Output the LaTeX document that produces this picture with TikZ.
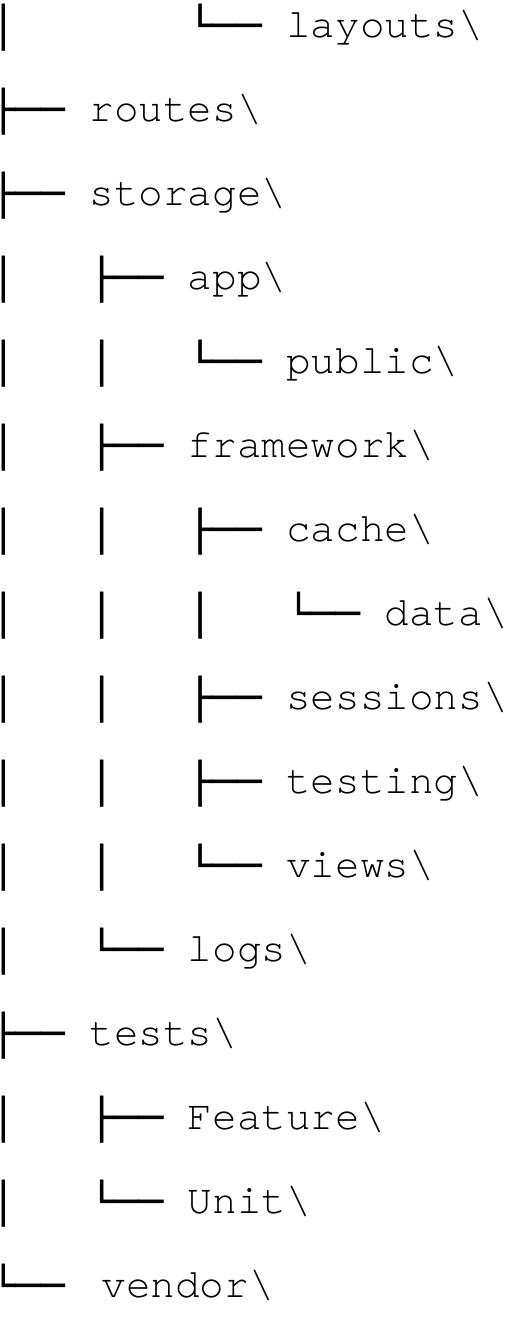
\documentclass[tikz,border=0pt]{standalone}
\usepackage{fontspec}
\newfontfamily\treefont{Liberation Mono}[FakeBold=1.2]
\newfontfamily\namefont{TeX Gyre Cursor}
\newcommand{\bl}{│\ \ \ }
\newcommand{\sk}{\ \ \ \ }
\newcommand{\nm}[1]{{\namefont #1\textbackslash}}
\begin{document}
\begin{tikzpicture}[x=1pt,y=1pt,
  ln/.style={anchor=base west,inner sep=0pt,outer sep=0pt,font=\treefont\fontsize{41}{41}\selectfont,text=black}]
\useasboundingbox (0,0) rectangle (509,1329);
\def\xo{-9}
\node[ln] (l1)  at (\xo,{1329-38-0*84})  {\bl\sk└──\ \nm{layouts}};
\node[ln] (l2)  at (\xo,{1329-38-1*84})  {├──\ \nm{routes}};
\node[ln] (l3)  at (\xo,{1329-38-2*84})  {├──\ \nm{storage}};
\node[ln] (l4)  at (\xo,{1329-38-3*84})  {\bl├──\ \nm{app}};
\node[ln] (l5)  at (\xo,{1329-38-4*84})  {\bl\bl└──\ \nm{public}};
\node[ln] (l6)  at (\xo,{1329-38-5*84})  {\bl├──\ \nm{framework}};
\node[ln] (l7)  at (\xo,{1329-38-6*84})  {\bl\bl├──\ \nm{cache}};
\node[ln] (l8)  at (\xo,{1329-38-7*84})  {\bl\bl\bl└──\ \nm{data}};
\node[ln] (l9)  at (\xo,{1329-38-8*84})  {\bl\bl├──\ \nm{sessions}};
\node[ln] (l10) at (\xo,{1329-38-9*84})  {\bl\bl├──\ \nm{testing}};
\node[ln] (l11) at (\xo,{1329-38-10*84}) {\bl\bl└──\ \nm{views}};
\node[ln] (l12) at (\xo,{1329-38-11*84}) {\bl└──\ \nm{logs}};
\node[ln] (l13) at (\xo,{1329-38-12*84}) {├──\ \nm{tests}};
\node[ln] (l14) at (\xo,{1329-38-13*84}) {\bl├──\ \nm{Feature}};
\node[ln] (l15) at (\xo,{1329-38-14*84}) {\bl└──\ \nm{Unit}};
\node[ln] (l16) at (\xo,{1329-38-15*84}) {└──\ \hspace{12pt}\nm{vendor}};
\end{tikzpicture}
\end{document}
